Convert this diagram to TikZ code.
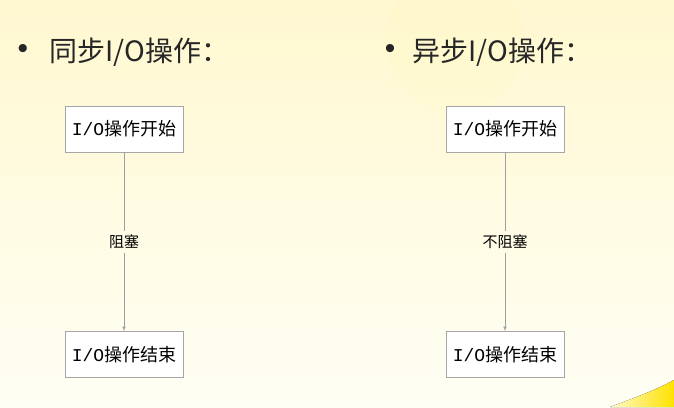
\documentclass[tikz,border=0pt]{standalone}
\usepackage{fontspec}
\setmainfont{Liberation Serif}
\newfontfamily\cjk{Noto Sans CJK SC}
\newfontfamily\iomono{Liberation Mono}
\newfontfamily\bulletfont{Liberation Sans}
\usepackage{tikz}
\usetikzlibrary{positioning}
\definecolor{slidetop}{RGB}{255,248,208}
\definecolor{slidebottom}{RGB}{255,254,244}
\definecolor{swoosh}{RGB}{255,226,0}

\begin{document}
\begin{tikzpicture}[x=1pt, y=1pt, node distance=179pt,
        opbox/.style = {shape=rectangle, draw=gray!70, fill=white,
                        minimum width=118pt, minimum height=46pt,
                        font=\fontsize{18}{18}\selectfont\cjk},
        head/.style = {anchor=west, text=black!85,
                       font=\fontsize{28}{28}\selectfont\cjk},
        dot/.style = {text=black!85, font=\fontsize{30}{30}\selectfont\bulletfont},
        note/.style = {inner sep=4pt, font=\fontsize{15}{15}\selectfont\cjk},
        link/.style = {draw=gray!75, line width=0.6pt}]
    \useasboundingbox (0,0) rectangle (674,407);
    % slide background
    \fill[top color=slidetop, bottom color=slidebottom] (0,0) rectangle (674,407);
    \fill[yellow!30, opacity=0.12] (455,365) circle (70);
    \fill[left color=swoosh!20, right color=swoosh]
        (610,0) .. controls (640,11) and (660,19) .. (674,27) -- (674,0) -- cycle;
    % headings
    \node[dot] (bsync) at (23,355) {•};
    \node[head] (hsync) at (46,355) {同步I/O操作：};
    \node[dot] (basync) at (390,355) {•};
    \node[head] (hasync) at (409,355) {异步I/O操作：};
    % synchronous
    \node[opbox] (sstart) at (124,278) {{\iomono I/O}操作开始};
    \node[opbox, below=of sstart] (send) {{\iomono I/O}操作结束};
    \path (sstart) -- (send) node[midway, note] (sblock) {阻塞};
    \draw[link] (sstart) -- (sblock);
    \draw[link, -latex] (sblock) -- (send);
    % asynchronous
    \node[opbox] (astart) at (505,278) {{\iomono I/O}操作开始};
    \node[opbox, below=of astart] (aend) {{\iomono I/O}操作结束};
    \path (astart) -- (aend) node[midway, note] (ablock) {不阻塞};
    \draw[link] (astart) -- (ablock);
    \draw[link, -latex] (ablock) -- (aend);
\end{tikzpicture}
\end{document}
